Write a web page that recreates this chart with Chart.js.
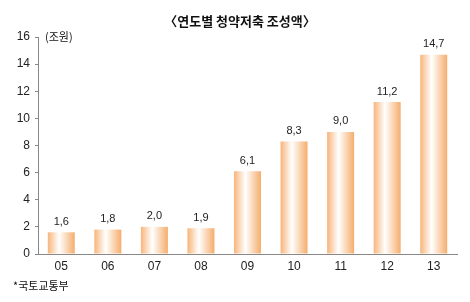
<!DOCTYPE html>
<html>
<head>
<meta charset="utf-8">
<script src="https://cdn.jsdelivr.net/npm/chart.js@4"></script>
<style>
  html, body { margin: 0; padding: 0; background: #fff; }
  #wrap { width: 470px; height: 302px; }
</style>
</head>
<body>
<div id="wrap"><canvas id="chart" width="470" height="302"></canvas></div>
<script>
// data
var years = ['05', '06', '07', '08', '09', '10', '11', '12', '13'];
var amounts = [1.6, 1.8, 2.0, 1.9, 6.1, 8.3, 9.0, 11.2, 14.7];
var yTicks = [0, 2, 4, 6, 8, 10, 12, 14, 16];

var titleText = '〈연도별 청약저축 조성액〉';
var unitText = '(조원)';
var sourceText = '*국토교통부';

var numFont = "'Liberation Sans Narrow', 'Liberation Sans', sans-serif";
var krFont = "'Noto Sans CJK KR', sans-serif";

// orange-white-orange gradient for each bar, plus the text bits
var decor = {
    id: 'decor',
    beforeDatasetsDraw: function(chart) {
        var ctx = chart.ctx;
        var meta = chart.getDatasetMeta(0);
        meta.data.forEach(function(bar) {
            var l = bar.x - bar.width / 2, r = bar.x + bar.width / 2;
            var g = ctx.createLinearGradient(l, 0, r, 0);
            g.addColorStop(0, '#f7b57a');
            g.addColorStop(0.42, '#ffffff');
            g.addColorStop(1, '#f5ad6c');
            bar.options.backgroundColor = g;
        });
    },
    afterDatasetsDraw: function(chart) {
        var ctx = chart.ctx;
        var meta = chart.getDatasetMeta(0);
        ctx.save();
        ctx.fillStyle = '#222';
        ctx.font = '11px ' + numFont;
        ctx.textAlign = 'center';
        ctx.textBaseline = 'bottom';
        meta.data.forEach(function(bar, i) {
            ctx.fillText(amounts[i].toFixed(1).replace('.', ','), bar.x, bar.y - 5);
        });
        ctx.restore();
    },
    afterDraw: function(chart) {
        var ctx = chart.ctx;
        ctx.save();
        ctx.fillStyle = '#111';
        ctx.textBaseline = 'middle';
        ctx.textAlign = 'center';
        ctx.font = 'bold 13px ' + krFont;
        ctx.fillText(titleText, 240, 21);
        ctx.textAlign = 'left';
        ctx.font = '11px ' + krFont;
        ctx.fillText(unitText, 45, 37);
        ctx.fillText(sourceText, 13, 286);
        ctx.restore();
    }
};

var chart = new Chart(document.getElementById('chart'), {
    type: 'bar',
    data: {
        labels: years,
        datasets: [{
            data: amounts,
            // a function here keeps one options object per bar,
            // so the plugin above can give each its own gradient
            backgroundColor: function() { return '#f7b57a'; },
            borderWidth: 0,
            barPercentage: 0.58,
            categoryPercentage: 1.0
        }]
    },
    options: {
        responsive: false,
        animation: false,
        layout: { padding: { top: 37, right: 13, bottom: 0, left: 0 } },
        plugins: { legend: { display: false }, tooltip: { enabled: false } },
        scales: {
            x: {
                grid: { display: false, drawTicks: false },
                border: { display: true, color: '#888', width: 1 },
                ticks: { color: '#222', padding: 5, font: { size: 12, family: numFont } },
                afterFit: function(s) { s.height = 48; }
            },
            y: {
                min: 0,
                max: 16,
                afterBuildTicks: function(s) { s.ticks = yTicks.map(function(v) { return { value: v }; }); },
                grid: { drawOnChartArea: false, tickLength: 3, color: '#888' },
                border: { display: true, color: '#888', width: 1 },
                ticks: { color: '#222', padding: 5, font: { size: 12, family: numFont } },
                afterFit: function(s) { s.width = 38; }
            }
        }
    },
    plugins: [decor]
});
</script>
</body>
</html>
